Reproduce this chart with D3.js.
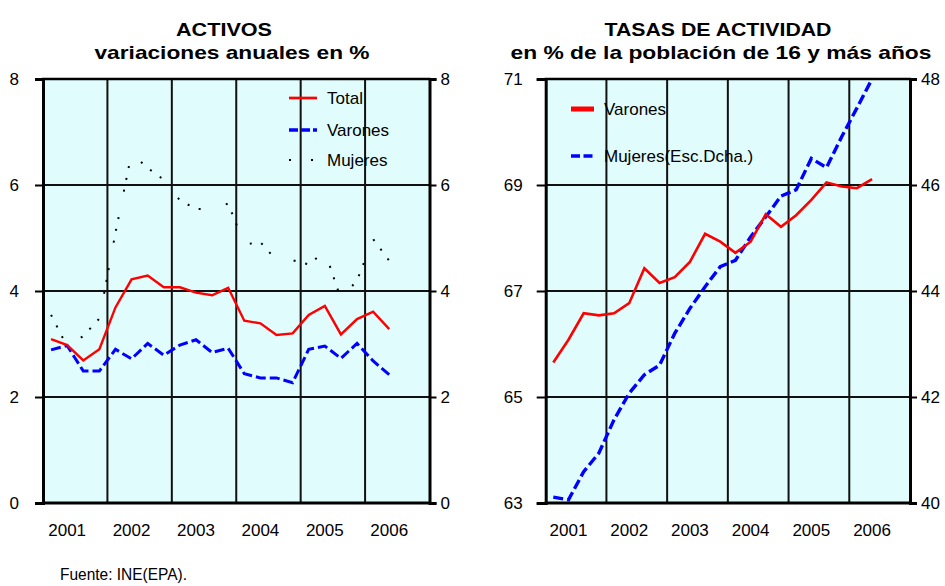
<!DOCTYPE html>
<html><head><meta charset="utf-8">
<script src="https://cdn.jsdelivr.net/npm/d3@7/dist/d3.min.js"></script>
<style>
body{margin:0;background:#fff}
text{font-family:"Liberation Sans",Arial,Helvetica,sans-serif;fill:#000}
</style>
</head><body>
<svg id="c" width="945" height="586"></svg>
<script>
// ---------- data ----------
const quarters = ["2001-I","2001-II","2001-III","2001-IV","2002-I","2002-II","2002-III","2002-IV",
  "2003-I","2003-II","2003-III","2003-IV","2004-I","2004-II","2004-III","2004-IV",
  "2005-I","2005-II","2005-III","2005-IV","2006-I","2006-II","2006-III","2006-IV"];
const years = ["2001","2002","2003","2004","2005","2006"];
const yearLabelQuarter = ["2001-II","2002-II","2003-II","2004-II","2005-II","2006-II"];

// Left panel: ACTIVOS, variaciones anuales en %
const activosTotal   = [3.09,2.98,2.69,2.90,3.69,4.22,4.29,4.07,4.07,3.97,3.92,4.06,3.44,3.39,3.17,3.20,3.55,3.72,3.18,3.47,3.61,3.28];
const activosVarones = [2.89,2.97,2.49,2.49,2.90,2.72,3.01,2.79,2.98,3.08,2.84,2.92,2.44,2.36,2.36,2.27,2.90,2.96,2.73,3.01,2.68,2.42];
const activosMujeres = [3.55,2.95,3.15,3.48,5.10,6.60,6.32,6.10,5.71,5.55,5.54,5.65,4.88,4.92,4.58,4.58,4.50,4.75,3.85,4.20,4.98,4.57];
const leftTicks = [0,2,4,6,8];

// Right panel: TASAS DE ACTIVIDAD
const tasaVarones = [65.65,66.08,66.58,66.54,66.58,66.77,67.43,67.15,67.26,67.55,68.08,67.93,67.72,67.93,68.45,68.21,68.43,68.72,69.05,68.97,68.94,69.11];
const tasaMujeres = [40.11,40.06,40.59,40.94,41.57,42.07,42.42,42.60,43.20,43.67,44.08,44.46,44.58,45.02,45.40,45.79,45.91,46.50,46.33,46.91,47.45,48.00];
const rightLeftTicks = [63,65,67,69,71];
const rightRightTicks = [40,42,44,46,48];

// ---------- drawing ----------
const svg = d3.select("#c");
const plotTop = 79, plotBottom = 503;

function panel(cfg){
  const g = svg.append("g");
  const x = d3.scaleBand().domain(quarters).range([cfg.x0, cfg.x1]);
  const xc = q => x(q) + x.bandwidth()/2;
  const yL = d3.scaleLinear().domain(cfg.yLdom).range([plotBottom, plotTop]);
  const yR = d3.scaleLinear().domain(cfg.yRdom).range([plotBottom, plotTop]);

  g.append("rect").attr("x",cfg.x0).attr("y",plotTop).attr("width",cfg.x1-cfg.x0).attr("height",plotBottom-plotTop)
    .attr("fill","#e1fcfc");

  g.selectAll(".hg").data(cfg.ticksL).enter().append("line")
    .attr("x1",cfg.x0).attr("x2",cfg.x1).attr("y1",d=>yL(d)).attr("y2",d=>yL(d))
    .attr("stroke","#111").attr("stroke-width",2);
  const bounds = years.map((y,i)=>x(quarters[i*4])).slice(1);
  g.selectAll(".vg").data(bounds).enter().append("line")
    .attr("x1",d=>d).attr("x2",d=>d).attr("y1",plotTop).attr("y2",plotBottom)
    .attr("stroke","#111").attr("stroke-width",2);

  const axL = g.append("g").attr("transform",`translate(${cfg.x0},0)`)
    .call(d3.axisLeft(yL).tickValues(cfg.ticksL).tickSize(cfg.tickL).tickPadding(cfg.padL).tickFormat(d3.format("d")));
  const axR = g.append("g").attr("transform",`translate(${cfg.x1},0)`)
    .call(d3.axisRight(yR).tickValues(cfg.ticksR).tickSize(7).tickPadding(cfg.padR).tickFormat(d3.format("d")));
  [axL,axR].forEach(a=>{
    a.select(".domain").attr("stroke","#000").attr("stroke-width",3);
    a.selectAll(".tick line").attr("stroke","#000").attr("stroke-width",2);
    a.selectAll(".tick text").attr("font-size",17).attr("fill","#000")
      .attr("font-family","'Liberation Sans',Arial,sans-serif");
  });
  g.append("line").attr("x1",cfg.x0-1).attr("x2",cfg.x1+1).attr("y1",plotTop).attr("y2",plotTop).attr("stroke","#000").attr("stroke-width",2.5);
  g.append("line").attr("x1",cfg.x0-1).attr("x2",cfg.x1+1).attr("y1",plotBottom).attr("y2",plotBottom).attr("stroke","#000").attr("stroke-width",3);

  g.selectAll(".yl").data(years).enter().append("text")
    .attr("x",(d,i)=>xc(yearLabelQuarter[i])).attr("y",536)
    .attr("text-anchor","middle").attr("font-size",17).text(d=>d);

  const cid = "clip"+cfg.id;
  svg.append("clipPath").attr("id",cid).append("rect")
    .attr("x",cfg.x0).attr("y",plotTop-1).attr("width",cfg.x1-cfg.x0).attr("height",plotBottom-plotTop+2);
  const lg = g.append("g").attr("clip-path",`url(#${cid})`);
  cfg.series.forEach(s=>{
    const ys = s.axis==="R" ? yR : yL;
    const line = d3.line().x((d,i)=>xc(quarters[i])).y(d=>ys(d));
    lg.append("path").datum(s.values).attr("d",line).attr("fill","none")
      .attr("stroke",s.color).attr("stroke-width",s.width)
      .attr("stroke-dasharray",s.dash||null).attr("stroke-linejoin","miter");
  });

  cfg.legend.items.forEach((it,i)=>{
    const yy = cfg.legend.ys[i];
    g.append("line").attr("x1",cfg.legend.lx0).attr("x2",cfg.legend.lx1).attr("y1",yy).attr("y2",yy)
      .attr("stroke",it.color).attr("stroke-width",it.width).attr("stroke-dasharray",it.dash||null);
    g.append("text").attr("x",cfg.legend.tx).attr("y",yy).attr("dy","0.36em")
      .attr("font-size",17).text(it.label);
  });

  cfg.titles.forEach(t=>{
    g.append("text").attr("x",t.x).attr("y",t.y).attr("text-anchor","middle")
      .attr("font-size",19).attr("font-weight","bold")
      .attr("textLength",t.len).attr("lengthAdjust","spacingAndGlyphs").text(t.text);
  });
}

panel({
  id:"L", x0:43, x1:429.5, yLdom:[0,8], yRdom:[0,8], ticksL:leftTicks, ticksR:leftTicks,
  tickL:8, padL:16, padR:4,
  series:[
    {values:activosMujeres, color:"#000", width:2, dash:"2,10,2,10,2,26"},
    {values:activosVarones, color:"#0000ff", width:3, dash:"10,4"},
    {values:activosTotal, color:"#ff0000", width:2.4}
  ],
  legend:{lx0:289, lx1:317, tx:327, ys:[98,130,160], items:[
    {label:"Total", color:"#ff0000", width:2.7},
    {label:"Varones", color:"#0000ff", width:3.5, dash:"9,3"},
    {label:"Mujeres", color:"#000", width:2, dash:"2,20"}
  ]},
  titles:[
    {text:"ACTIVOS", x:224, y:35.5, len:96},
    {text:"variaciones anuales en %", x:232, y:58.5, len:275}
  ]
});

panel({
  id:"R", x0:545.7, x1:910, yLdom:[63,71], yRdom:[40,48], ticksL:rightLeftTicks, ticksR:rightRightTicks,
  tickL:9, padL:14, padR:4,
  series:[
    {values:tasaMujeres, axis:"R", color:"#0000ff", width:3.4, dash:"10,4"},
    {values:tasaVarones, color:"#ff0000", width:2.6}
  ],
  legend:{lx0:571, lx1:594, tx:604, ys:[109,156], items:[
    {label:"Varones", color:"#ff0000", width:5},
    {label:"Mujeres(Esc.Dcha.)", color:"#0000ff", width:3.4, dash:"9,3.5"}
  ]},
  titles:[
    {text:"TASAS DE ACTIVIDAD", x:718, y:35.5, len:227},
    {text:"en % de la población de 16  y más años", x:721, y:58.5, len:421}
  ]
});

svg.append("text").attr("x",60).attr("y",580).attr("font-size",17).attr("textLength",127)
  .attr("lengthAdjust","spacingAndGlyphs").text("Fuente: INE(EPA).");
</script>
</body></html>
